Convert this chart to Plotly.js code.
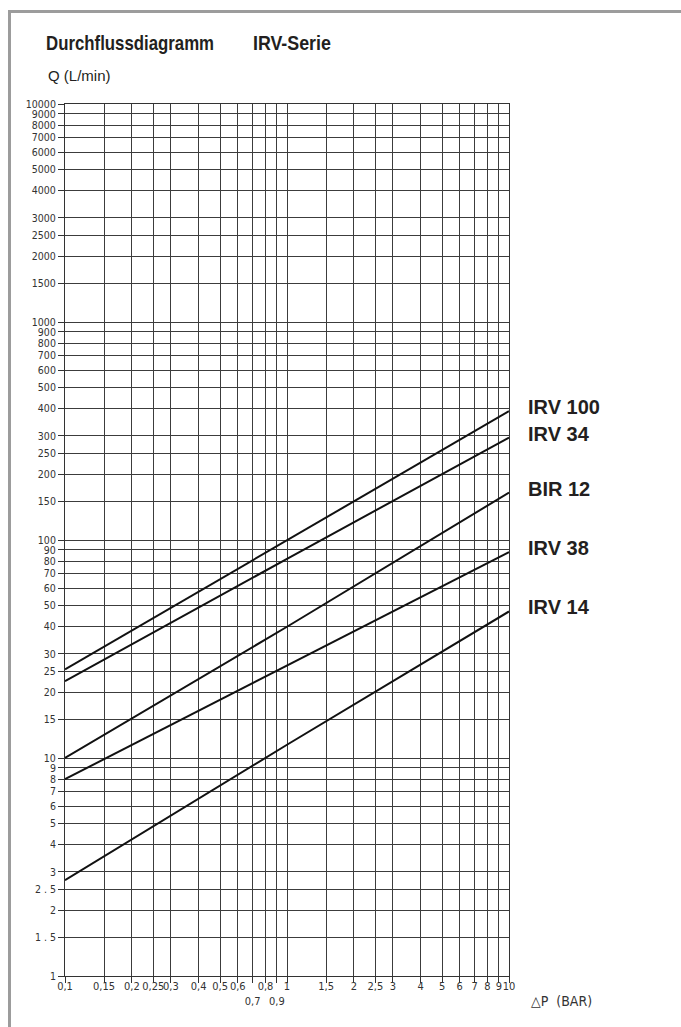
<!DOCTYPE html>
<html>
<head>
<meta charset="utf-8">
<script src="https://cdn.plot.ly/plotly-3.0.1.min.js"></script>
<style>
  html, body { margin: 0; padding: 0; background: #ffffff; }
  #frame { position: absolute; left: 8px; top: 10px; width: 700px; height: 1040px;
           border-left: 3px solid #9c9c9c; border-top: 3px solid #9c9c9c; box-sizing: border-box; }
  #chart { position: absolute; left: 0; top: 0; width: 681px; height: 1027px; }
</style>
</head>
<body>
<div id="frame"></div>
<div id="chart"></div>
<script>
// ---- data ----
const pressure = [0.1, 1, 10];               // ΔP (bar)
const seriesNames = ['IRV 100', 'IRV 34', 'BIR 12', 'IRV 38', 'IRV 14'];
const irv100 = [25.5, 100, 390];
const irv34  = [22.5, 82, 295];
const bir12  = [10, 40, 165];
const irv38  = [8, 26.5, 88];
const irv14  = [2.75, 11.5, 47];
const seriesValues = [irv100, irv34, bir12, irv38, irv14];

const xTickVals = [0.1,0.15,0.2,0.25,0.3,0.4,0.5,0.6,0.7,0.8,0.9,1,1.5,2,2.5,3,4,5,6,7,8,9,10];
const xTickText = ['0,1','0,15','0,2','0,25','0,3','0,4','0,5','0,6','<br>0,7','0,8','<br>0,9','1','1,5','2','2,5','3','4','5','6','7','8','9','10'];
const yTickVals = [1,1.5,2,2.5,3,4,5,6,7,8,9,10,15,20,25,30,40,50,60,70,80,90,100,150,200,250,300,400,500,600,700,800,900,1000,1500,2000,2500,3000,4000,5000,6000,7000,8000,9000,10000];
const yTickText = ['1','1 . 5','2','2 . 5','3','4','5','6','7','8','9','10','15','20','25','30','40','50','60','70','80','90','100','150','200','250','300','400','500','600','700','800','900','1000','1500','2000','2500','3000','4000','5000','6000','7000','8000','9000','10000'];

const titleLeft = 'Durchflussdiagramm';
const titleRight = 'IRV-Serie';
const yTitle = 'Q (L/min)';
const xTitle = '△P  (BAR)';

// ---- styling ----
const techFont = 'DejaVu Sans Condensed, Liberation Sans Narrow, DejaVu Sans, sans-serif';
const gridCol = '#3c3c3c';
const titleFont = { family: 'Liberation Sans, Arial, sans-serif', size: 21, weight: 'bold', color: '#231f20' };

const traces = seriesValues.map((vals, i) => ({
  type: 'scatter', mode: 'lines', name: seriesNames[i],
  x: pressure, y: vals,
  line: { color: '#111111', width: 2 },
  hoverinfo: 'skip'
}));

const annotations = [
  { xref: 'paper', yref: 'paper', x: 0.1464, y: 1.0711, xanchor: 'center', yanchor: 'middle', showarrow: false,
    text: titleLeft, font: titleFont },
  { xref: 'paper', yref: 'paper', x: 0.5113, y: 1.0711, xanchor: 'center', yanchor: 'middle', showarrow: false,
    text: titleRight, font: titleFont },
  { xref: 'paper', yref: 'paper', x: -0.042, y: 1.033, xanchor: 'left', yanchor: 'middle', showarrow: false,
    text: yTitle, font: { family: 'Liberation Sans, Arial, sans-serif', size: 15, color: '#231f20' } },
  { xref: 'paper', yref: 'paper', x: 1.044, y: -0.029, xanchor: 'left', yanchor: 'middle', showarrow: false,
    text: xTitle, font: { family: techFont, size: 14, color: '#333333' } }
];
seriesValues.forEach((vals, i) => {
  annotations.push({
    xref: 'paper', yref: 'y', x: 1.038, y: Math.log10(vals[vals.length - 1]),
    xanchor: 'left', yanchor: 'middle', yshift: 4, showarrow: false,
    text: seriesNames[i],
    font: { family: 'Liberation Sans, Arial, sans-serif', size: 20, weight: 'bold', color: '#231f20' }
  });
});

const layout = {
  width: 681, height: 1027,
  margin: { l: 65, r: 172, t: 104, b: 51, pad: 0 },
  paper_bgcolor: 'rgba(0,0,0,0)', plot_bgcolor: 'rgba(0,0,0,0)',
  showlegend: false,
  xaxis: {
    type: 'log', range: [-1, 1], tickmode: 'array', tickvals: xTickVals, ticktext: xTickText,
    tickangle: 0, ticks: '',
    minor: { tickmode: 'array', tickvals: xTickVals, ticks: 'outside', ticklen: 6, tickcolor: '#333', showgrid: false },
    showgrid: true, gridcolor: gridCol, gridwidth: 1, zeroline: false,
    showline: true, linecolor: '#333', linewidth: 1, mirror: true,
    tickfont: { family: techFont, size: 11, color: '#333' }, fixedrange: true
  },
  yaxis: {
    type: 'log', range: [0, 4], tickmode: 'array', tickvals: yTickVals, ticktext: yTickText,
    ticks: 'outside', ticklen: 6, tickcolor: '#333', tickwidth: 1,
    showgrid: true, gridcolor: gridCol, gridwidth: 1, zeroline: false,
    showline: true, linecolor: '#333', linewidth: 1, mirror: true,
    tickfont: { family: techFont, size: 10.5, color: '#333' }, fixedrange: true
  },
  annotations: annotations
};

Plotly.newPlot('chart', traces, layout, { displayModeBar: false, staticPlot: true }).then(() => {
  // condense the two title words to the reference's narrow bold lettering
  const targets = {};
  targets[titleLeft] = 168;
  targets[titleRight] = 78;
  document.querySelectorAll('#chart text.annotation-text').forEach(t => {
    const w = targets[t.textContent];
    if (w) {
      t.setAttribute('textLength', w);
      t.setAttribute('lengthAdjust', 'spacingAndGlyphs');
    }
  });
});
</script>
</body>
</html>
